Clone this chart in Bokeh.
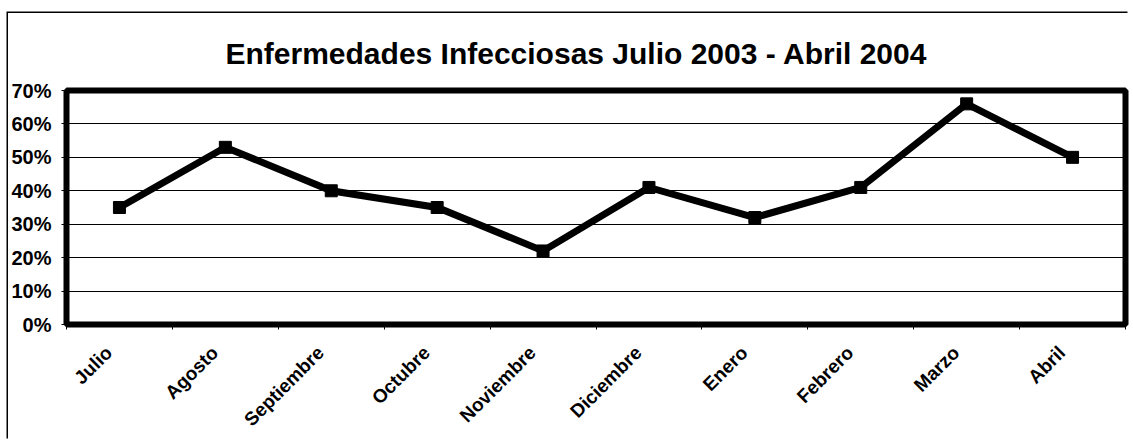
import math
from bokeh.plotting import figure
from bokeh.models import (Range1d, LinearAxis, FixedTicker, NumeralTickFormatter,
                          Grid, ColumnDataSource)
from bokeh.embed import file_html
from bokeh.resources import INLINE

months = ["Julio", "Agosto", "Septiembre", "Octubre", "Noviembre",
          "Diciembre", "Enero", "Febrero", "Marzo", "Abril"]
values = [0.35, 0.53, 0.40, 0.35, 0.22, 0.41, 0.32, 0.41, 0.66, 0.50]
y_ticks = [0, 0.1, 0.2, 0.3, 0.4, 0.5, 0.6, 0.7]
title_text = "Enfermedades Infecciosas Julio 2003 - Abril 2004"

FONT = "Liberation Sans"

n = len(months)
centers = [i + 0.5 for i in range(n)]
label_pos = [c - 0.1 for c in centers]  # rotated labels sit slightly left of the centre
src = ColumnDataSource(dict(x=centers, y=values, month=months))

p = figure(width=1121, height=427, output_backend="svg", toolbar_location=None,
           x_range=Range1d(0, n), y_range=Range1d(y_ticks[0], y_ticks[-1]),
           x_axis_location=None, y_axis_location=None,
           min_border_left=58, min_border_right=4, min_border_top=77, min_border_bottom=115)
p.styles = {"position": "relative", "left": "8px", "top": "13px",
            "box-shadow": "-1.5px -1.5px 0 0 black"}
p.xgrid.visible = False
p.ygrid.visible = False

p.title.text = title_text
p.title.text_font = FONT
p.title.text_font_style = "bold"
p.title.text_font_size = "30px"
p.title.text_color = "black"
p.title.align = "left"
p.title.offset = 159
p.title.standoff = 41

p.background_fill_color = "white"
p.border_fill_color = "white"
p.outline_line_color = "black"
p.outline_line_width = 6

# y axis
yax = LinearAxis(ticker=FixedTicker(ticks=y_ticks),
                 formatter=NumeralTickFormatter(format="0%"))
yax.axis_line_color = "black"
yax.major_tick_line_color = "black"
yax.major_tick_in = 0
yax.major_tick_out = 5
yax.minor_tick_line_color = None
yax.major_label_text_font = FONT
yax.major_label_text_font_style = "bold"
yax.major_label_text_font_size = "20px"
yax.major_label_text_color = "black"
yax.major_label_standoff = 10
p.add_layout(yax, "left")

# boundary tick marks (category separators)
bounds = list(range(n + 1))
tax = LinearAxis(ticker=FixedTicker(ticks=bounds),
                 major_label_overrides={b: "" for b in bounds})
tax.axis_line_color = None
tax.major_tick_line_color = "black"
tax.major_tick_in = 0
tax.major_tick_out = 5
tax.minor_tick_line_color = None
tax.major_label_text_font_size = "0px"
tax.major_label_standoff = 0
p.add_layout(tax, "below")

# category labels
cax = LinearAxis(ticker=FixedTicker(ticks=label_pos),
                 major_label_overrides={c: m for c, m in zip(label_pos, months)})
cax.axis_line_color = None
cax.major_tick_line_color = None
cax.minor_tick_line_color = None
cax.major_label_orientation = math.pi / 4
cax.major_label_text_font = FONT
cax.major_label_text_font_style = "bold"
cax.major_label_text_font_size = "19px"
cax.major_label_text_color = "black"
cax.major_label_standoff = 14
p.add_layout(cax, "below")

g = Grid(dimension=1, ticker=FixedTicker(ticks=y_ticks))
g.grid_line_color = "black"
g.grid_line_width = 1
p.add_layout(g)

p.line("x", "y", source=src, line_color="black", line_width=7, line_join="miter")
p.scatter("x", "y", source=src, marker="square", size=12, fill_color="black", line_color="black")

open("out.html", "w").write(file_html(p, INLINE))
